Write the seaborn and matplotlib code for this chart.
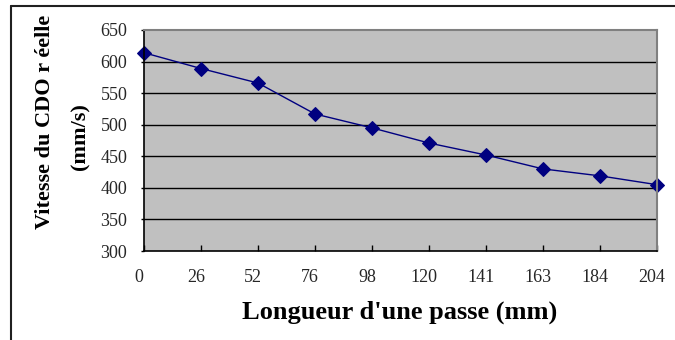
import matplotlib
matplotlib.use("Agg")
import matplotlib.pyplot as plt
import matplotlib.transforms as mtransforms
import seaborn as sns
import pandas as pd
import numpy as np

categories = ["0", "26", "52", "76", "98", "120", "141", "163", "184", "204"]
vitesse = [614, 589, 566, 517, 495, 471, 452, 430, 419, 405]
y_ticks = [300, 350, 400, 450, 500, 550, 600, 650]

df = pd.DataFrame({"pos": np.arange(len(categories)), "v": vitesse})

sns.set_theme(style="white")
plt.rcParams["font.family"] = ["Liberation Serif", "DejaVu Serif"]

W, H = 675, 340
fig = plt.figure(figsize=(W / 100, H / 100), dpi=100)
fig.patch.set_facecolor("white")
ax = fig.add_axes([144 / W, 1 - 251 / H, (657 - 144) / W, (251 - 30) / H])
ax.set_facecolor("#c0c0c0")

sns.lineplot(data=df, x="pos", y="v", ax=ax, color="#000080", linewidth=1,
             marker="D", markersize=7, markerfacecolor="#000080",
             markeredgecolor="#000080", clip_on=False)

ax.set_xlim(0, len(categories) - 1)
ax.set_ylim(300, 650)
ax.set_yticks(y_ticks)
ax.set_xticks(range(len(categories)))
ax.set_xticklabels(categories)
for yv in y_ticks[1:-1]:
    ax.axhline(yv, color="black", linewidth=1, zorder=1)

for side in ["left", "bottom"]:
    ax.spines[side].set_color("black")
    ax.spines[side].set_linewidth(1.2)
for side in ["top", "right"]:
    ax.spines[side].set_color("#808080")
    ax.spines[side].set_linewidth(1.5)
    ax.spines[side].set_visible(True)

ax.tick_params(axis="x", direction="in", length=4, width=1, color="black",
               labelsize=13, pad=13)
ax.tick_params(axis="y", direction="out", length=2, width=1, color="black",
               labelsize=13, pad=10, left=True)
ax.tick_params(axis="x", bottom=True)
shift = mtransforms.ScaledTranslation(-5 / 100, 0, fig.dpi_scale_trans)
for lab in ax.get_xticklabels():
    lab.set_transform(lab.get_transform() + shift)
ax.set_xlabel("")
ax.set_ylabel("")

fig.text(400 / W, 1 - 312 / H, "Longueur d'une passe (mm)", ha="center",
         va="center", fontsize=19, fontweight="bold", color="black")
fig.text(45 / W, 1 - 122 / H, "Vitesse du CDO r éelle", ha="center",
         va="center", rotation=90, fontsize=16, fontweight="bold", color="black")
fig.text(80 / W, 1 - 137 / H, "(mm/s)", ha="center", va="center",
         rotation=90, fontsize=16, fontweight="bold", color="black")

# figure frame (top and left visible)
fig.add_artist(plt.Line2D([11 / W, 11 / W], [0, 1 - 6 / H], transform=fig.transFigure,
                          color="#202020", linewidth=1.5))
fig.add_artist(plt.Line2D([11 / W, 1], [1 - 6 / H, 1 - 6 / H], transform=fig.transFigure,
                          color="#202020", linewidth=1.5))

fig.savefig("out.png", dpi=100)
